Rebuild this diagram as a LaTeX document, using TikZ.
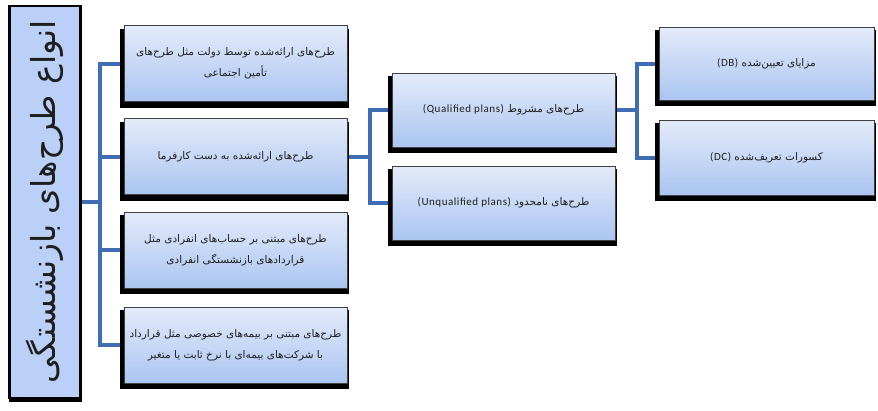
\documentclass[tikz,border=0pt]{standalone}
\usepackage{fontspec}
\newfontfamily\persianfont[Script=Arabic]{DejaVu Sans}
\newfontfamily\latinfont[LetterSpace=5]{Carlito}
\TeXXeTstate=1
\pgfdeclarelayer{bg}
\pgfsetlayers{bg,main}
\definecolor{connblue}{HTML}{3F6DB3}
\definecolor{boxtop}{HTML}{E4EBFA}
\definecolor{boxbot}{HTML}{AAC5F1}
\definecolor{rootfill}{HTML}{BBD0F6}
\definecolor{txt}{HTML}{1E1E1E}
\newcommand{\fa}[1]{{\persianfont\beginR #1\endR}}
\newcommand{\en}[1]{\beginL{\latinfont\fontsize{11}{13}\selectfont #1}\endL{}}
\tikzset{
  plainbox/.style={draw=black!75, line width=0.6pt, top color=boxtop, bottom color=boxbot,
    minimum width=223pt, minimum height=76pt, inner sep=2pt, outer sep=0pt,
    align=center, font=\fontsize{10.5}{21}\selectfont, text=txt},
  rootbox/.style={draw=black, line width=2.5pt, fill=rootfill, minimum width=71pt,
    minimum height=392pt, outer sep=0pt},
  conn/.style={draw=connblue, line width=4pt},
  shade/.style={fill=black}
}
\newcommand{\boxshadow}[1]{\fill[shade] ([shift={(-4pt,-3pt)}]#1.north west) rectangle ([shift={(2pt,-6pt)}]#1.south east);}
\begin{document}
\begin{tikzpicture}[x=1pt,y=-1pt]
\useasboundingbox (0,0) rectangle (878,410);
% root
\node[rootbox] (root) at (45,202) {};
\node[rotate=90, font=\fontsize{33}{36}\selectfont, text=txt] (rootlabel) at (root.center) {\fa{انواع طرح‌های بازنشستگی}};
% level 1
\node[plainbox] (b1) at (235.5,63.5) {\fa{طرح‌های ارائه‌شده توسط دولت مثل طرح‌های}\\\fa{تأمین اجتماعی}};
\node[plainbox] (b2) at (235.5,156.5) {\fa{طرح‌های ارائه‌شده به دست کارفرما}};
\node[plainbox] (b3) at (235.5,250) {\fa{طرح‌های مبتنی بر حساب‌های انفرادی مثل}\\\fa{قراردادهای بازنشستگی انفرادی}};
\node[plainbox] (b4) at (235.5,345) {\fa{طرح‌های مبتنی بر بیمه‌های خصوصی مثل قرارداد}\\\fa{با شرکت‌های بیمه‌ای با نرخ ثابت یا متغیر}};
% level 2
\node[plainbox, minimum height=74pt] (q) at (503.5,110) {\fa{طرح‌های مشروط \en{(Qualified plans)}}};
\node[plainbox, minimum height=74pt] (u) at (503.5,203) {\fa{طرح‌های نامحدود \en{(Unqualified plans)}}};
% level 3
\node[plainbox, minimum width=215pt, minimum height=73pt] (db) at (766.5,63.5) {\fa{مزایای تعیین‌شده \en{(DB)}}};
\node[plainbox, minimum width=215pt, minimum height=75pt] (dc) at (766.5,157.5) {\fa{کسورات تعریف‌شده \en{(DC)}}};
\coordinate (v1) at (100,0);
\coordinate (v2) at (370,0);
\coordinate (v3) at (637,0);
\begin{pgfonlayer}{bg}
  \fill[white] (0,0) rectangle (878,410);
  \draw[conn] (b1.west) -- (b1.west -| v1) -- (b4.west -| v1) -- (b4.west);
  \draw[conn] (b2.west) -- (b2.west -| v1);
  \draw[conn] (b3.west) -- (b3.west -| v1);
  \draw[conn] (root.east) -- (root.east -| v1);
  \draw[conn] (q.west) -- (q.west -| v2) -- (u.west -| v2) -- (u.west);
  \draw[conn] (b2.east) -- (b2.east -| v2);
  \draw[conn] (db.west) -- (db.west -| v3) -- (dc.west -| v3) -- (dc.west);
  \draw[conn] (q.east) -- (q.east -| v3);
  \boxshadow{b1}\boxshadow{b2}\boxshadow{b3}\boxshadow{b4}
  \boxshadow{q}\boxshadow{u}\boxshadow{db}\boxshadow{dc}
  \fill[shade] ([shift={(-1pt,0pt)}]root.north west) rectangle ([shift={(1pt,-4pt)}]root.south east);
\end{pgfonlayer}
\end{tikzpicture}
\end{document}
